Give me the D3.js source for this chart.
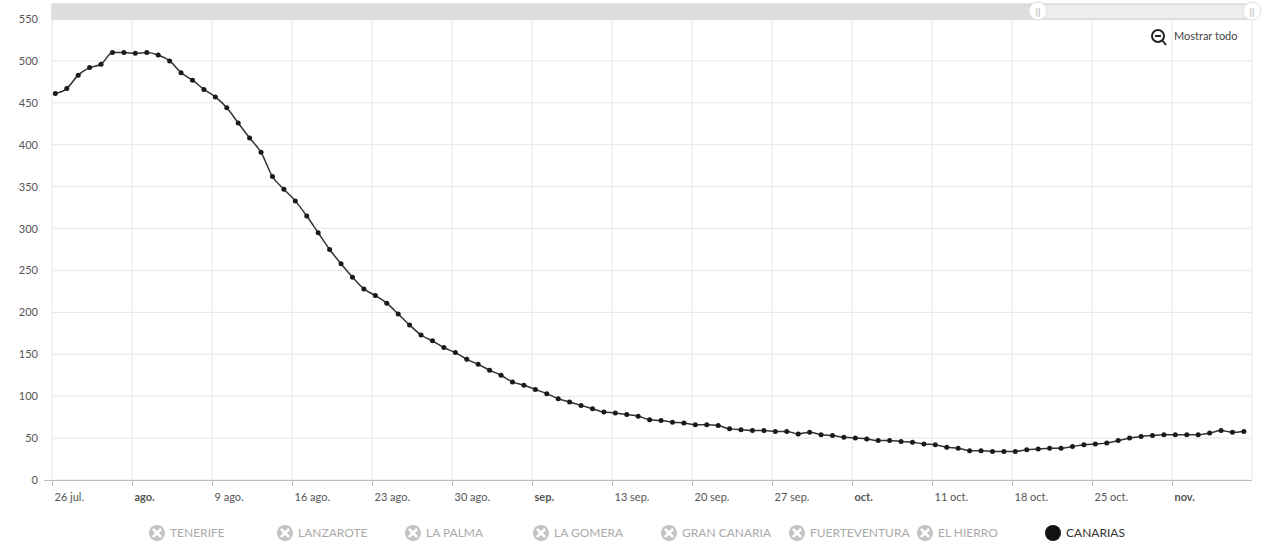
<!DOCTYPE html>
<html>
<head>
<meta charset="utf-8">
<script src="https://cdn.jsdelivr.net/npm/d3@7"></script>
<style>
  body { margin: 0; background: #fff; font-family: Lato, "Open Sans", sans-serif; }
  svg text { fill: #555; font-size: 11px; }
</style>
</head>
<body>
<svg id="chart" width="1280" height="548"></svg>
<script>
// daily values from 26 jul. onward (105 days)
const values = [
  461, 467, 483, 492, 496, 510, 510, 509, 510, 507,
  500, 486, 477, 466, 457, 444, 426, 408, 391, 362,
  347, 333, 315, 295, 275, 258, 242, 228, 220, 211,
  198, 185, 173, 166, 158, 152, 144, 138, 131, 125,
  117, 113, 108, 103, 97, 93, 89, 85, 81, 80,
  78, 76, 72, 71, 69, 68, 66, 66, 65, 61,
  60, 59, 59, 58, 58, 55, 57, 54, 53, 51,
  50, 49, 47, 47, 46, 45, 43, 42, 39, 38,
  35, 35, 34, 34, 34, 36, 37, 38, 38, 40,
  42, 43, 44, 47, 50, 52, 53, 54, 54, 54,
  54, 56, 59, 57, 58
];
const startDate = new Date(2020, 6, 26, 7);
const dates = values.map((v, i) => d3.timeDay.offset(startDate, i));

const tickLabels = ['26 jul.', 'ago.', '9 ago.', '16 ago.', '23 ago.', '30 ago.', 'sep.',
  '13 sep.', '20 sep.', '27 sep.', 'oct.', '11 oct.', '18 oct.', '25 oct.', 'nov.'];
const boldLabels = ['ago.', 'sep.', 'oct.', 'nov.'];
const yTicks = [0, 50, 100, 150, 200, 250, 300, 350, 400, 450, 500, 550];
const legendItems = ['TENERIFE', 'LANZAROTE', 'LA PALMA', 'LA GOMERA', 'GRAN CANARIA',
  'FUERTEVENTURA', 'EL HIERRO', 'CANARIAS'];

const svg = d3.select('#chart');
const pLeft = 52, pRight = 1252, pTop = 19, pBottom = 480;

const xScale = d3.scaleTime()
  .domain([new Date(2020, 6, 26), d3.timeDay.offset(new Date(2020, 6, 26), 105)])
  .range([pLeft, pRight]);
const yScale = d3.scaleLinear().domain([0, 550]).range([pBottom, pTop]);
const xTicks = d3.range(tickLabels.length).map(i => d3.timeDay.offset(new Date(2020, 6, 26), i * 7));

// gridlines
svg.append('g').selectAll('line').data(yTicks).join('line')
  .attr('x1', pLeft).attr('x2', pRight)
  .attr('y1', d => yScale(d)).attr('y2', d => yScale(d))
  .attr('stroke', '#e6e6e6');
svg.append('g').selectAll('line').data(xTicks.concat([xScale.domain()[1]])).join('line')
  .attr('x1', d => xScale(d)).attr('x2', d => xScale(d))
  .attr('y1', pTop).attr('y2', pBottom)
  .attr('stroke', '#e6e6e6');

// y axis labels
svg.append('g').selectAll('text').data(yTicks).join('text')
  .attr('x', 38).attr('y', d => yScale(d) + 4)
  .attr('text-anchor', 'end').text(d => d);

// x axis
const xAxis = svg.append('g').attr('transform', `translate(0,${pBottom})`)
  .call(d3.axisBottom(xScale).tickValues(xTicks).tickSize(6).tickFormat((d, i) => tickLabels[i]));
xAxis.select('.domain').attr('stroke', '#bbb').attr('d', `M${pLeft - 8},0.5H${pRight}`);
xAxis.selectAll('.tick line').attr('stroke', '#bbb');
xAxis.selectAll('.tick text')
  .attr('text-anchor', 'start').attr('x', 2).attr('dy', '1.1em')
  .style('font-size', '11px').style('fill', '#555').style('font-family', 'Lato, sans-serif')
  .style('font-weight', (d, i) => boldLabels.includes(tickLabels[i]) ? 'bold' : 'normal');

// scrollbar
svg.append('rect').attr('x', pLeft).attr('y', 4).attr('width', pRight - pLeft).attr('height', 15)
  .attr('fill', '#eee').attr('stroke', '#ccc');
svg.append('rect').attr('x', pLeft).attr('y', 4).attr('width', 1038 - pLeft).attr('height', 15)
  .attr('fill', '#ddd');
[1038, 1252].forEach(hx => {
  svg.append('circle').attr('cx', hx).attr('cy', 11).attr('r', 9)
    .attr('fill', '#fff').attr('stroke', '#ddd');
  svg.append('text').attr('x', hx).attr('y', 15).attr('text-anchor', 'middle')
    .style('fill', '#aaa').style('font-size', '10px').text('||');
});

// Mostrar todo
svg.append('circle').attr('cx', 1158).attr('cy', 36).attr('r', 6)
  .attr('fill', 'none').attr('stroke', '#222').attr('stroke-width', 2);
svg.append('line').attr('x1', 1155).attr('x2', 1161).attr('y1', 36).attr('y2', 36)
  .attr('stroke', '#222').attr('stroke-width', 2);
svg.append('line').attr('x1', 1162).attr('x2', 1166).attr('y1', 40).attr('y2', 45)
  .attr('stroke', '#222').attr('stroke-width', 2);
svg.append('text').attr('x', 1174).attr('y', 40).style('fill', '#444').text('Mostrar todo');

// line
const line = d3.line()
  .x((d, i) => xScale(dates[i]))
  .y(d => yScale(d))
  .curve(d3.curveMonotoneX);
svg.append('path').datum(values).attr('d', line)
  .attr('fill', 'none').attr('stroke', '#333').attr('stroke-width', 1.5);
svg.append('g').selectAll('circle').data(values).join('circle')
  .attr('cx', (d, i) => xScale(dates[i])).attr('cy', d => yScale(d))
  .attr('r', 2.5).attr('fill', '#1a1a1a');

// legend
const legend = svg.append('g').selectAll('g').data(legendItems).join('g')
  .attr('transform', (d, i) => `translate(${157 + i * 128},533)`);
legend.each(function (d) {
  const g = d3.select(this);
  if (d === 'CANARIAS') {
    g.append('circle').attr('r', 8).attr('fill', '#111');
  } else {
    g.append('circle').attr('r', 8).attr('fill', '#c4c4c4');
    g.append('path').attr('d', 'M-4,-4L4,4M4,-4L-4,4')
      .attr('stroke', '#fff').attr('stroke-width', 2.5);
  }
  g.append('text').attr('x', 13).attr('y', 4)
    .style('fill', d === 'CANARIAS' ? '#333' : '#aaa').style('font-size', '12px').text(d);
});
</script>
</body>
</html>
